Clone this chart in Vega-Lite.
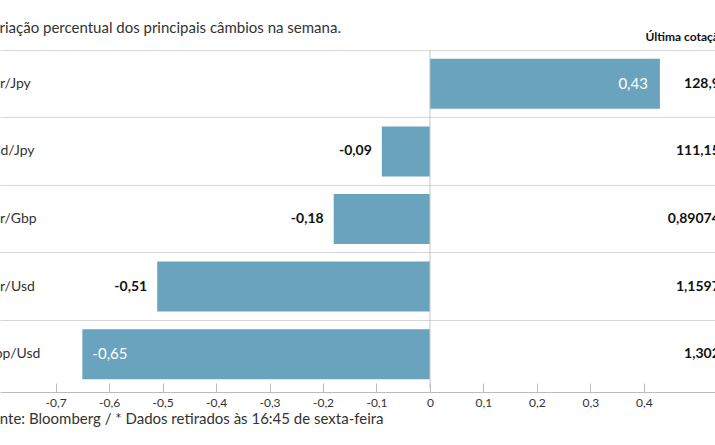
{
  "$schema": "https://vega.github.io/schema/vega-lite/v6.json",
  "width": 715,
  "height": 338,
  "autosize": {"type": "none"},
  "padding": {"left": 0, "top": 50, "right": 0, "bottom": 57},
  "background": "white",
  "title": {
    "text": "Variação percentual dos principais câmbios na semana.",
    "anchor": "start",
    "frame": "group",
    "dx": -17,
    "dy": 26,
    "offset": 8,
    "baseline": "alphabetic",
    "font": "Lato",
    "fontSize": 15,
    "fontWeight": "normal",
    "color": "#333333"
  },
  "data": {
    "values": [
      {"par": "Eur/Jpy", "variacao": 0.43, "cotacao": "128,9"},
      {"par": "Usd/Jpy", "variacao": -0.09, "cotacao": "111,15"},
      {"par": "Eur/Gbp", "variacao": -0.18, "cotacao": "0,89074"},
      {"par": "Eur/Usd", "variacao": -0.51, "cotacao": "1,1597"},
      {"par": "Gbp/Usd", "variacao": -0.65, "cotacao": "1,302"}
    ]
  },
  "layer": [
    {
      "mark": {"type": "bar", "color": "#6aa3be", "height": {"band": 0.74}},
      "encoding": {
        "x": {
          "field": "variacao",
          "type": "quantitative",
          "scale": {"domain": [-0.804, 0.533], "nice": false, "zero": false},
          "axis": {
            "values": [-0.7, -0.6, -0.5, -0.4, -0.3, -0.2, -0.1, 0, 0.1, 0.2, 0.3, 0.4],
            "format": ".1~f",
            "grid": false,
            "offset": 4,
            "tickSize": -9,
            "tickColor": "#bbbbbb",
            "domainColor": "#bbbbbb",
            "labelFont": "Lato",
            "labelFontSize": 12,
            "labelColor": "#333333",
            "labelPadding": 14,
            "title": "Fonte: Bloomberg / * Dados retirados às 16:45 de sexta-feira",
            "titleAnchor": "start",
            "titleAlign": "left",
            "titleX": -17,
            "titleY": 31,
            "titleBaseline": "alphabetic",
            "titleFont": "Lato",
            "titleFontSize": 15,
            "titleFontWeight": "normal",
            "titleColor": "#333333"
          }
        },
        "y": {
          "field": "par",
          "type": "nominal",
          "sort": null,
          "scale": {"paddingInner": 0, "paddingOuter": 0},
          "axis": {
            "orient": "left",
            "domain": false,
            "ticks": false,
            "grid": true,
            "gridColor": "#d6d6d6",
            "bandPosition": 0,
            "tickExtra": false,
            "labelAlign": "left",
            "labelBaseline": "middle",
            "labelPadding": 16,
            "labelFont": "Lato",
            "labelFontSize": 14,
            "labelColor": "#333333",
            "title": "Última cotação",
            "titleAngle": 0,
            "titleX": 645,
            "titleY": -10,
            "titleAlign": "left",
            "titleBaseline": "alphabetic",
            "titleFont": "Lato",
            "titleFontSize": 12,
            "titleFontWeight": "bold",
            "titleColor": "#111111"
          }
        }
      }
    },
    {
      "data": {"values": [{}]},
      "mark": {"type": "rule", "color": "#c4c4c4"},
      "encoding": {"x": {"datum": 0}}
    },
    {
      "transform": [{"filter": "datum.variacao < 0 && datum.variacao > -0.6"}],
      "mark": {"type": "text", "align": "right", "baseline": "middle", "dx": -10, "font": "Lato", "fontSize": 14, "fontWeight": "bold", "color": "#111111"},
      "encoding": {
        "x": {"field": "variacao", "type": "quantitative"},
        "y": {"field": "par", "type": "nominal", "sort": null},
        "text": {"field": "variacao", "type": "quantitative", "format": ".2f"}
      }
    },
    {
      "transform": [{"filter": "datum.variacao > 0"}],
      "mark": {"type": "text", "align": "right", "baseline": "middle", "dx": -12, "font": "Lato", "fontSize": 15, "color": "#ffffff"},
      "encoding": {
        "x": {"field": "variacao", "type": "quantitative"},
        "y": {"field": "par", "type": "nominal", "sort": null},
        "text": {"field": "variacao", "type": "quantitative", "format": ".2f"}
      }
    },
    {
      "transform": [{"filter": "datum.variacao <= -0.6"}],
      "mark": {"type": "text", "align": "left", "baseline": "middle", "dx": 10, "font": "Lato", "fontSize": 15, "color": "#ffffff"},
      "encoding": {
        "x": {"field": "variacao", "type": "quantitative"},
        "y": {"field": "par", "type": "nominal", "sort": null},
        "text": {"field": "variacao", "type": "quantitative", "format": ".2f"}
      }
    },
    {
      "mark": {"type": "text", "align": "right", "baseline": "middle", "font": "Lato", "fontSize": 14, "fontWeight": "bold", "color": "#111111"},
      "encoding": {
        "x": {"datum": 0.542},
        "y": {"field": "par", "type": "nominal", "sort": null},
        "text": {"field": "cotacao", "type": "nominal"}
      }
    }
  ],
  "config": {
    "view": {"stroke": null},
    "font": "Lato",
    "locale": {
      "number": {"decimal": ",", "thousands": ".", "grouping": [3], "currency": ["", " €"], "minus": "-"}
    }
  }
}
